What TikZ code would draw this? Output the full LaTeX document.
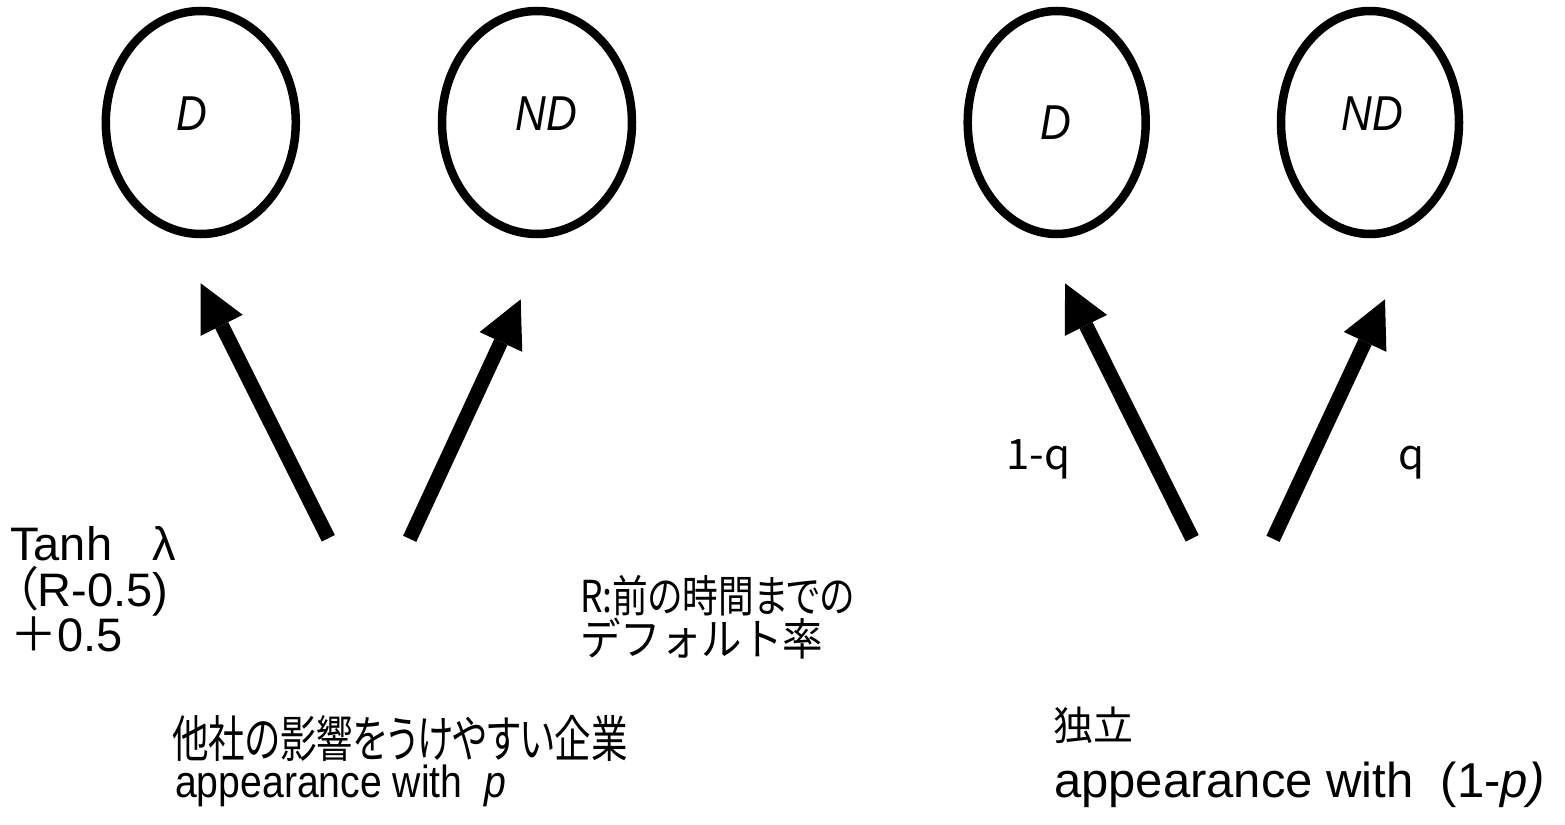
\documentclass[tikz,border=0pt]{standalone}
\usepackage{fontspec}
\setmainfont{Liberation Sans}[FakeStretch=0.87]
\newfontfamily\arial{Liberation Sans}
\newfontfamily\jpp{Noto Sans CJK JP}[FakeStretch=0.73,RawFeature=+palt]
\newfontfamily\jpq{Noto Sans CJK JP}[FakeStretch=0.81,RawFeature=+palt]
\newfontfamily\jpr{Noto Sans CJK JP}[RawFeature=+palt]
\newfontfamily\jpn{Noto Sans CJK JP}[FakeStretch=0.92]
\newfontfamily\jpw{Noto Sans CJK JP}
\usetikzlibrary{arrows.meta,shapes.geometric}
\begin{document}
\begin{tikzpicture}[x=1pt,y=-1pt,
  stateL/.style={draw, ellipse, line width=8.5pt, inner sep=0pt, minimum width=190pt, minimum height=223pt},
  stateR/.style={draw, ellipse, line width=8.5pt, inner sep=0pt, minimum width=178pt, minimum height=223pt},
  lab/.style={inner sep=0pt, font=\fontsize{49}{58}\selectfont\itshape},
  txt/.style={inner sep=0pt, anchor=base west, font=\fontsize{45}{54}\selectfont},
  ftxt/.style={inner sep=0pt, anchor=base west, font=\fontsize{47}{56}\selectfont\arial},
  jtxt/.style={inner sep=0pt, anchor=base west, font=\fontsize{44}{54}\selectfont\jpn},
  bigarrow/.style={line width=14.5pt, -{Triangle[length=47pt,width=47pt,line width=0pt]}}]
\useasboundingbox (0,0) rectangle (1565,824);
% ellipses
\node[stateL] (dL) at (200.8,122.5) {};
\node[stateL] (ndL) at (537,122.5) {};
\node[stateR] (dR) at (1056.7,122.5) {};
\node[stateR] (ndR) at (1370,122.5) {};
\node[lab] (dLt) at (192,114) {D};
\node[lab] (ndLt) at (546,114) {ND};
\node[lab] (dRt) at (1056,123) {D};
\node[lab] (ndRt) at (1372,114) {ND};
% arrows
\coordinate (t1) at (328.3,538.3); \coordinate (h1) at (200.7,283.3);
\coordinate (t2) at (409.7,538.8); \coordinate (h2) at (520.7,299.3);
\coordinate (t3) at (1192.2,538.3); \coordinate (h3) at (1065,283.3);
\coordinate (t4) at (1273,538.8); \coordinate (h4) at (1385,299.3);
\draw[bigarrow] (t1) -- (h1);
\draw[bigarrow] (t2) -- (h2);
\draw[bigarrow] (t3) -- (h3);
\draw[bigarrow] (t4) -- (h4);
% left formula
\node[ftxt] (f1) at (10,560) {Tanh\hspace{40pt}λ};
\node[ftxt] (f2) at (2,606) {\hspace*{12pt}{\jpr （}R-0.5)};
\node[ftxt] (f3) at (10,651) {{\jpw ＋}0.5};
% R definition
\node[jtxt, font=\fontsize{44}{54}\selectfont\jpq] (r1) at (580,612) {R:前の時間までの};
\node[jtxt] (r2) at (580,655) {デフォルト率};
% q labels
\node[jtxt, font=\fontsize{42}{50}\selectfont\jpw] (q1) at (1006,469) {1-q};
\node[jtxt, font=\fontsize{42}{50}\selectfont\jpw] (q2) at (1398,469) {q};
% bottom
\node[inner sep=0pt, anchor=west, font=\fontsize{50}{60}\selectfont\jpp] (b1) at (172,738) {他社の影響をうけやすい企業};
\node[txt] (b2) at (175,797) {appearance with~~\textit{p}};
\node[inner sep=0pt, anchor=west, font=\fontsize{40}{48}\selectfont\jpw] (b3) at (1053,725) {独立};
\node[inner sep=0pt, anchor=base west, font=\fontsize{49}{58}\selectfont\arial] (b4) at (1054,797) {appearance with~~(1-\textit{p)}};
\end{tikzpicture}
\end{document}
